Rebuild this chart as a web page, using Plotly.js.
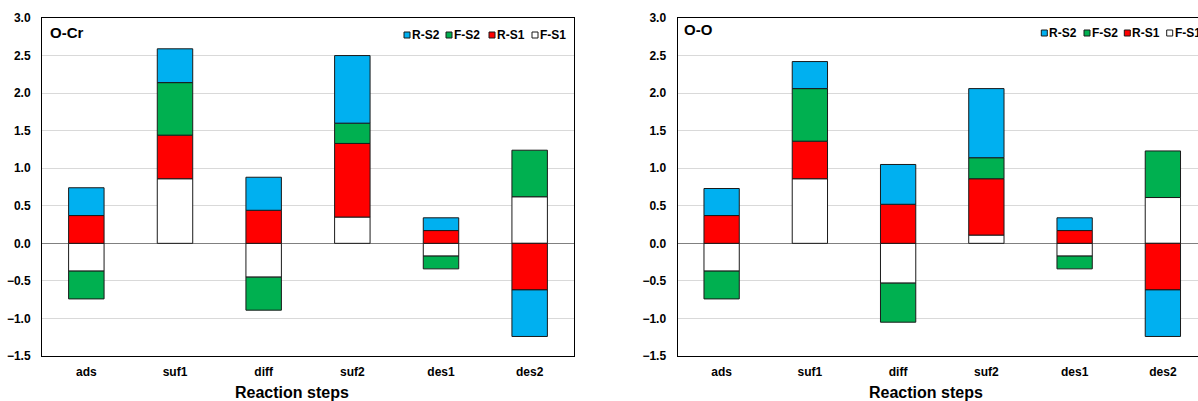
<!DOCTYPE html>
<html>
<head>
<meta charset="utf-8">
<script src="https://cdn.plot.ly/plotly-3.0.1.min.js"></script>
<style>
html, body { margin: 0; padding: 0; overflow: hidden; background: #fff; }
#chart { width: 1207px; height: 401px; }
</style>
</head>
<body>
<div id="chart"></div>
<script>
// ---- data ----
const categories = ['ads', 'suf1', 'diff', 'suf2', 'des1', 'des2'];
const seriesNames = ['F-S1', 'R-S1', 'F-S2', 'R-S2'];
const seriesColors = ['#FFFFFF', '#FF0000', '#00B050', '#00B0F0'];

// O-Cr panel
const ocr_FS1 = [-0.37, 0.86, -0.45, 0.35, -0.17, 0.62];
const ocr_RS1 = [0.37, 0.58, 0.44, 0.98, 0.17, -0.62];
const ocr_FS2 = [-0.37, 0.70, -0.44, 0.27, -0.17, 0.62];
const ocr_RS2 = [0.37, 0.45, 0.44, 0.90, 0.17, -0.62];

// O-O panel
const oo_FS1 = [-0.37, 0.86, -0.53, 0.11, -0.17, 0.61];
const oo_RS1 = [0.37, 0.50, 0.52, 0.75, 0.17, -0.62];
const oo_FS2 = [-0.37, 0.70, -0.52, 0.28, -0.17, 0.62];
const oo_RS2 = [0.36, 0.36, 0.53, 0.92, 0.17, -0.62];

const panelTitles = ['O-Cr', 'O-O'];
const xTitle = 'Reaction steps';
const yTickVals = [-1.5, -1.0, -0.5, 0.0, 0.5, 1.0, 1.5, 2.0, 2.5, 3.0];

// ---- build ----
const FONT = 'Liberation Sans, Arial, sans-serif';
const panels = [
  { xa: 'x', ya: 'y', series: [ocr_FS1, ocr_RS1, ocr_FS2, ocr_RS2] },
  { xa: 'x2', ya: 'y2', series: [oo_FS1, oo_RS1, oo_FS2, oo_RS2] }
];

const traces = [];
panels.forEach(p => {
  p.series.forEach((vals, i) => {
    traces.push({
      type: 'bar', x: categories, y: vals, name: seriesNames[i],
      xaxis: p.xa, yaxis: p.ya, showlegend: false,
      marker: { color: seriesColors[i], line: { color: '#1a1a1a', width: 1 } },
      hoverinfo: 'x+y+name'
    });
  });
});

// pixel geometry of the plot areas (for placing overlay labels)
const W = 1207, H = 401, ML = 42, MR = 0, MT = 18, MB = 45;
const PW = W - ML - MR;
const boxes = [{ x0: 42, x1: 574 }, { x0: 677.5, x1: 1207 }];
const fx = (b, px) => (px - b.x0) / (b.x1 - b.x0);
const fy = py => (H - MB - py) / (H - MB - MT);

const axisCommon = {
  showline: true, mirror: true, linecolor: '#000', linewidth: 1,
};
const xaxisBase = Object.assign({}, axisCommon, {
  type: 'category', showgrid: false, ticks: '',
  tickfont: { family: FONT, size: 12, color: '#000', weight: 'bold' },
  ticklabelstandoff: 5, fixedrange: true
});
const yaxisBase = Object.assign({}, axisCommon, {
  range: [-1.5, 3.0], tickvals: yTickVals, tickformat: '.1f',
  showgrid: true, gridcolor: '#d9d9d9', gridwidth: 1,
  zeroline: true, zerolinecolor: '#808080', zerolinewidth: 1,
  ticks: '', ticklabelstandoff: 8,
  tickfont: { family: FONT, size: 12, color: '#000', weight: 'bold' },
  fixedrange: true
});

const legendOrder = [3, 2, 1, 0]; // R-S2, F-S2, R-S1, F-S1
const legendCenters = [[407, 449, 492, 535], [1044.3, 1087, 1127.3, 1169.7]];
const legendY = [35, 33];
const titleY = [32.5, 30];
const titleX = [50, 684];

const annotations = [];
const shapes = [];
panels.forEach((p, k) => {
  const b = boxes[k];
  const xref = (k === 0 ? 'x' : 'x2') + ' domain';
  const yref = (k === 0 ? 'y' : 'y2') + ' domain';
  // panel label
  annotations.push({
    xref, yref, x: fx(b, titleX[k] - 2), y: fy(titleY[k]), xanchor: 'left', yanchor: 'middle',
    text: '<b>' + panelTitles[k] + '</b>', showarrow: false,
    font: { family: FONT, size: 15, color: '#000' }
  });
  // x axis title
  annotations.push({
    xref, yref, x: 0.47, y: fy(392), xanchor: 'center', yanchor: 'middle',
    text: '<b>' + xTitle + '</b>', showarrow: false,
    font: { family: FONT, size: 16, color: '#000' }
  });
  // legend
  legendOrder.forEach((si, j) => {
    const cx = legendCenters[k][j];
    shapes.push({
      type: 'rect', xref, yref, xsizemode: 'pixel', ysizemode: 'pixel',
      xanchor: fx(b, cx), yanchor: fy(legendY[k]), x0: -3, x1: 3, y0: -3, y1: 3,
      fillcolor: seriesColors[si], line: { color: '#1a1a1a', width: 1 }
    });
    annotations.push({
      xref, yref, x: fx(b, cx + 3), y: fy(legendY[k]), xanchor: 'left', yanchor: 'middle',
      text: '<b>' + seriesNames[si] + '</b>', showarrow: false,
      font: { family: FONT, size: 12, color: '#000' }
    });
  });
});

const layout = {
  width: W, height: H,
  margin: { l: ML, r: MR, t: MT, b: MB },
  paper_bgcolor: '#fff', plot_bgcolor: '#fff',
  barmode: 'relative', bargap: 0.6,
  showlegend: false,
  font: { family: FONT, color: '#000' },
  xaxis: Object.assign({}, xaxisBase, { domain: [0, (574 - ML) / PW], anchor: 'y' }),
  xaxis2: Object.assign({}, xaxisBase, { domain: [(677.5 - ML) / PW, 1], anchor: 'y2' }),
  yaxis: Object.assign({}, yaxisBase, { domain: [0, 1], anchor: 'x' }),
  yaxis2: Object.assign({}, yaxisBase, { domain: [0, 1], anchor: 'x2' }),
  annotations, shapes
};

Plotly.newPlot('chart', traces, layout, { displayModeBar: false, staticPlot: true });
</script>
</body>
</html>
